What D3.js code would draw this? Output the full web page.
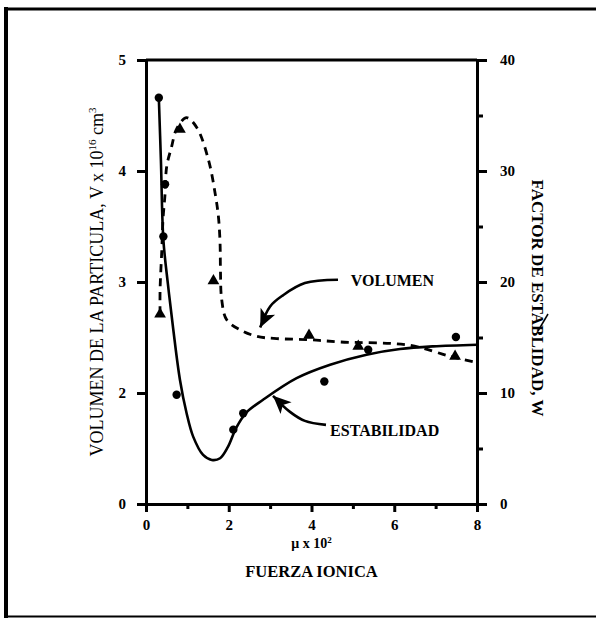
<!DOCTYPE html>
<html><head><meta charset="utf-8">
<script src="https://cdn.jsdelivr.net/npm/d3@7"></script>
<style>body{margin:0;background:#fff}svg{display:block}</style>
</head><body>
<script>
// ---- data ----
const xTicks = [0, 2, 4, 6, 8];
const xMinorTicks = [1, 3, 5, 7];
const leftTicks = [1, 2, 3, 4, 5];
const leftTickLabels = ["0", "2", "3", "4", "5"];
const rightTicks = [0, 10, 20, 30, 40];
const rightMinorTicks = [5, 15, 25, 35];

// Volumen (triangles, left axis)
const volX = [0.34, 0.82, 1.63, 3.94, 5.13, 7.47];
const volV = [2.71, 4.375, 3.01, 2.52, 2.42, 2.33];
// Estabilidad (circles, right axis)
const stabX = [0.31, 0.46, 0.42, 0.74, 2.11, 2.35, 4.31, 5.37, 7.49];
const stabW = [36.6, 28.8, 24.1, 9.84, 6.7, 8.18, 11.04, 13.9, 15.04];

// fitted curves
const volCurveX = [0.34, 0.34, 0.38, 0.41, 0.46, 0.50, 0.62, 0.74, 0.98, 1.23, 1.51, 1.67, 1.75, 1.79, 1.80, 1.83, 1.95, 2.27, 2.68, 3.16, 3.94, 4.69, 6.38, 7.35, 7.93];
const volCurveV = [2.71, 2.93, 3.27, 3.56, 3.79, 4.04, 4.22, 4.38, 4.48, 4.39, 4.10, 3.80, 3.59, 3.35, 3.10, 2.84, 2.66, 2.57, 2.51, 2.49, 2.48, 2.46, 2.43, 2.33, 2.28];
const stabCurveX = [0.31, 0.36, 0.42, 0.53, 0.66, 0.82, 0.98, 1.14, 1.38, 1.59, 1.79, 1.98, 2.18, 2.42, 2.83, 3.64, 4.45, 5.33, 6.14, 6.94, 8.0];
const stabCurveW = [36.6, 31.0, 23.8, 19.8, 15.7, 11.2, 8.2, 6.07, 4.42, 3.97, 4.12, 5.14, 6.86, 8.21, 9.39, 11.34, 12.55, 13.45, 13.96, 14.2, 14.35];

// annotation arrows (data units)
const volArrowX = [4.64, 3.84, 3.31, 3.00, 2.76];
const volArrowV = [3.02, 2.99, 2.88, 2.78, 2.59];
const stabArrowX = [4.35, 3.84, 3.48, 3.07];
const stabArrowW = [7.13, 7.49, 8.30, 9.75];

// ---- drawing ----
const W = 596, H = 619;
const serif = "'Liberation Serif','Times New Roman',serif";
const svg = d3.select("body").append("svg").attr("width", W).attr("height", H);

// outer frame
svg.append("line").attr("x1", 6).attr("x2", 6).attr("y1", 7).attr("y2", 618).attr("stroke", "#000").attr("stroke-width", 4);
svg.append("line").attr("x1", 4).attr("x2", 596).attr("y1", 9).attr("y2", 9).attr("stroke", "#000").attr("stroke-width", 3);
svg.append("line").attr("x1", 4).attr("x2", 596).attr("y1", 616.5).attr("y2", 616.5).attr("stroke", "#000").attr("stroke-width", 2);

const x = d3.scaleLinear().domain([0, 8]).range([146, 477]);
const yL = d3.scaleLinear().domain([1, 5]).range([504, 60]);
const yR = d3.scaleLinear().domain([0, 40]).range([504, 60]);

const axisStyle = g => {
  g.select(".domain").attr("stroke-width", 3);
  g.selectAll(".tick line").attr("stroke-width", 3);
  g.selectAll("text").attr("font-family", serif).attr("font-weight", "bold").attr("font-size", 15).attr("fill", "#000");
};

// top line
svg.append("line").attr("x1", x(0)).attr("x2", x(8)).attr("y1", yR(40)).attr("y2", yR(40)).attr("stroke", "#000").attr("stroke-width", 3);

// bottom axis
svg.append("g").attr("transform", `translate(0,${yR(0)})`)
  .call(d3.axisBottom(x).tickValues(xTicks).tickSize(8).tickSizeOuter(0).tickPadding(7).tickFormat(d3.format("d")))
  .call(axisStyle);
svg.append("g").attr("transform", `translate(0,${yR(0)})`)
  .call(d3.axisBottom(x).tickValues(xMinorTicks).tickSize(5).tickSizeOuter(0).tickFormat(""))
  .call(g => { g.select(".domain").remove(); g.selectAll(".tick line").attr("stroke-width", 3); });

// left axis
svg.append("g").attr("transform", `translate(${x(0)},0)`)
  .call(d3.axisLeft(yL).tickValues(leftTicks).tickSize(9).tickSizeOuter(0).tickPadding(11).tickFormat((d, i) => leftTickLabels[i]))
  .call(axisStyle);

// right axis
svg.append("g").attr("transform", `translate(${x(8)},0)`)
  .call(d3.axisRight(yR).tickValues(rightTicks).tickSize(10).tickSizeOuter(0).tickPadding(13).tickFormat(d3.format("d")))
  .call(axisStyle);
svg.append("g").attr("transform", `translate(${x(8)},0)`)
  .call(d3.axisRight(yR).tickValues(rightMinorTicks).tickSize(6).tickSizeOuter(0).tickFormat(""))
  .call(g => { g.select(".domain").remove(); g.selectAll(".tick line").attr("stroke-width", 3); });

// curves
const volCurve = volCurveX.map((d, i) => [x(d), yL(volCurveV[i])]);
const stabCurve = stabCurveX.map((d, i) => [x(d), yR(stabCurveW[i])]);
const lineGen = d3.line().curve(d3.curveCatmullRom.alpha(0.5));
svg.append("path").attr("d", lineGen(stabCurve)).attr("fill", "none").attr("stroke", "#000").attr("stroke-width", 2.6);
svg.append("path").attr("d", lineGen(volCurve)).attr("fill", "none").attr("stroke", "#000").attr("stroke-width", 2.8).attr("stroke-dasharray", "8,6");

// markers
svg.selectAll(".stab").data(stabX).enter().append("circle")
  .attr("cx", d => x(d)).attr("cy", (d, i) => yR(stabW[i])).attr("r", 4.2).attr("fill", "#000");
svg.selectAll(".vol").data(volX).enter().append("path")
  .attr("d", d3.symbol(d3.symbolTriangle, 60))
  .attr("transform", (d, i) => `translate(${x(d)},${yL(volV[i])})`).attr("fill", "#000");

// annotation arrows
function arrow(pts) {
  svg.append("path").attr("d", lineGen(pts)).attr("fill", "none").attr("stroke", "#000").attr("stroke-width", 2.6);
  const [a, b] = [pts[pts.length - 2], pts[pts.length - 1]];
  const ang = Math.atan2(b[1] - a[1], b[0] - a[0]);
  const L = 18, hw = 8;
  const bx = b[0] - L * Math.cos(ang), by = b[1] - L * Math.sin(ang);
  const px = -Math.sin(ang) * hw, py = Math.cos(ang) * hw;
  svg.append("path").attr("d", `M${b[0]},${b[1]}L${bx + px},${by + py}L${bx + L*0.25*Math.cos(ang)},${by + L*0.25*Math.sin(ang)}L${bx - px},${by - py}Z`).attr("fill", "#000");
}
arrow(volArrowX.map((d, i) => [x(d), yL(volArrowV[i])]));
arrow(stabArrowX.map((d, i) => [x(d), yR(stabArrowW[i])]));

// annotation text
svg.append("text").attr("x", x(4.95)).attr("y", yL(2.96)).attr("font-family", serif).attr("font-weight", "bold").attr("font-size", 16).text("VOLUMEN");
svg.append("text").attr("x", x(4.45)).attr("y", yR(6.1)).attr("font-family", serif).attr("font-weight", "bold").attr("font-size", 16).text("ESTABILIDAD");

// axis titles
const lt = svg.append("text").attr("transform", `translate(103,${(yL(1) + yL(5)) / 2}) rotate(-90)`)
  .attr("text-anchor", "middle").attr("font-family", serif).attr("font-size", 18);
lt.append("tspan").text("VOLUMEN DE LA PARTICULA, V x 10");
lt.append("tspan").attr("font-size", 11).attr("dy", -7).text("16");
lt.append("tspan").attr("dy", 7).text(" cm");
lt.append("tspan").attr("font-size", 11).attr("dy", -7).text("3");

svg.append("text").attr("transform", `translate(532,298) rotate(90)`)
  .attr("text-anchor", "middle").attr("font-family", serif).attr("font-weight", "bold").attr("font-size", 17)
  .text("FACTOR DE ESTABLIDAD, W");
// hand-drawn correction mark over the title
svg.append("line").attr("x1", 538).attr("y1", 331).attr("x2", 548).attr("y2", 314).attr("stroke", "#000").attr("stroke-width", 1.5);

const mt = svg.append("text").attr("x", x(4)).attr("y", 548).attr("text-anchor", "middle").attr("font-family", serif).attr("font-weight", "bold").attr("font-size", 14);
mt.append("tspan").text("\u03bc x 10");
mt.append("tspan").attr("font-size", 9).attr("dy", -5).text("2");

svg.append("text").attr("x", x(4)).attr("y", 577).attr("text-anchor", "middle").attr("font-family", serif).attr("font-weight", "bold").attr("font-size", 16.5).text("FUERZA IONICA");
</script>
</body></html>
